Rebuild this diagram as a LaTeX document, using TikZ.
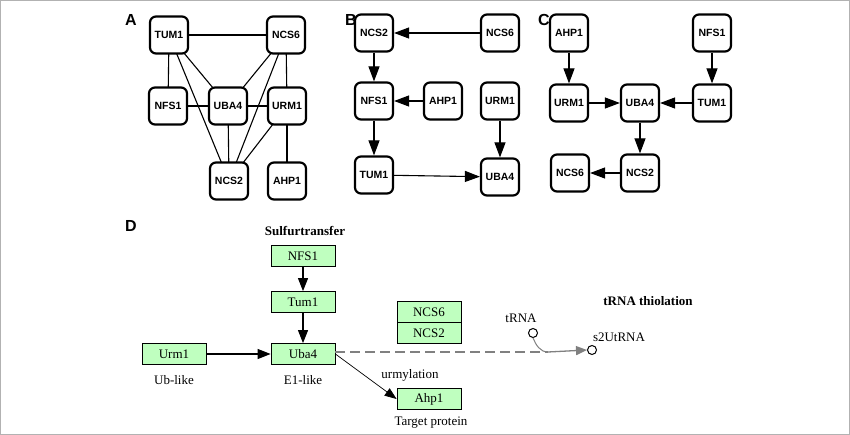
\documentclass[tikz,border=0pt]{standalone}
\usepackage{fontspec}
\setmainfont{Liberation Serif}
\setsansfont{Liberation Sans}
\usetikzlibrary{arrows.meta}
\definecolor{kg}{HTML}{BFFFBF}
\begin{document}
\begin{tikzpicture}[x=1pt,y=-1pt,
 pn/.style={draw,line width=2.2pt,rounded corners=6pt,minimum width=38pt,minimum height=37pt,inner sep=1pt,font=\sffamily\bfseries\fontsize{10.5}{11}\selectfont,fill=white},
 el/.style={line width=1.1pt},
 ar/.style={line width=1.1pt,-{Triangle[length=15pt,width=11pt]}},
 lab/.style={font=\sffamily\bfseries\fontsize{16}{17}\selectfont,inner sep=0pt},
 kb/.style={draw,line width=0.8pt,fill=kg,minimum width=64pt,minimum height=21pt,inner sep=0pt,font=\fontsize{13}{14}\selectfont},
 tx/.style={font=\fontsize{13}{14}\selectfont,inner sep=1pt},
 bt/.style={font=\bfseries\fontsize{13}{14}\selectfont,inner sep=1pt},
 da/.style={line width=1.1pt,-{Triangle[length=13pt,width=10pt]}}]
\useasboundingbox (0,0) rectangle (850,435);
\draw[gray!60,line width=1pt] (0.5,0.5) rectangle (849.5,434.5);
% A
\node[lab] (la) at (131,20) {A};
\coordinate (atum) at (169,35);
\coordinate (ancs6) at (286,35);
\coordinate (anfs) at (168,106);
\coordinate (auba) at (228,106);
\coordinate (aurm) at (287,106);
\coordinate (ancs2) at (229,181);
\coordinate (aahp) at (287,181);
\foreach \a/\b in {atum/ancs6,atum/anfs,atum/auba,atum/ancs2,anfs/auba,auba/aurm,auba/ancs2,ancs6/auba,ancs6/ancs2,ancs6/aurm,aurm/ancs2,aurm/aahp}
 \draw[el] (\a) -- (\b);
\node[pn] (natum) at (atum) {TUM1};
\node[pn] (nancs6) at (ancs6) {NCS6};
\node[pn] (nanfs) at (anfs) {NFS1};
\node[pn] (nauba) at (auba) {UBA4};
\node[pn] (naurm) at (aurm) {URM1};
\node[pn] (nancs2) at (ancs2) {NCS2};
\node[pn] (naahp) at (aahp) {AHP1};
% B
\node[lab] (lb) at (351,20) {B};
\node[pn] (bncs2) at (374,33) {NCS2};
\node[pn] (bncs6) at (500,33) {NCS6};
\node[pn] (bnfs) at (374,101) {NFS1};
\node[pn] (bahp) at (443,101) {AHP1};
\node[pn] (burm) at (500,101) {URM1};
\node[pn] (btum) at (374,175) {TUM1};
\node[pn] (buba) at (500,177) {UBA4};
\draw[ar] (bncs6) -- (bncs2);
\draw[ar] (bncs2) -- (bnfs);
\draw[ar] (bahp) -- (bnfs);
\draw[ar] (bnfs) -- (btum);
\draw[ar] (btum) -- (buba);
\draw[ar] (burm) -- (buba);
% C
\node[lab] (lc) at (544,20) {C};
\node[pn] (cahp) at (569,33) {AHP1};
\node[pn] (cnfs) at (712,33) {NFS1};
\node[pn] (curm) at (569,103) {URM1};
\node[pn] (cuba) at (640,103) {UBA4};
\node[pn] (ctum) at (712,103) {TUM1};
\node[pn] (cncs6) at (570,173) {NCS6};
\node[pn] (cncs2) at (640,173) {NCS2};
\draw[ar] (cahp) -- (curm);
\draw[ar] (cnfs) -- (ctum);
\draw[ar] (curm) -- (cuba);
\draw[ar] (ctum) -- (cuba);
\draw[ar] (cuba) -- (cncs2);
\draw[ar] (cncs2) -- (cncs6);
% D
\node[lab] (ld) at (131,226) {D};
\node[bt] (sul) at (305,231) {Sulfurtransfer};
\node[kb] (dnfs) at (303,256) {NFS1};
\node[kb] (dtum) at (303,302) {Tum1};
\node[kb] (duba) at (303,354) {Uba4};
\node[kb] (durm) at (174,354) {Urm1};
\node[kb] (dncs6) at (429,312) {NCS6};
\node[kb] (dncs2) at (429,333) {NCS2};
\node[kb] (dahp) at (429,399) {Ahp1};
\node[tx] (ub) at (174,380) {Ub-like};
\node[tx] (e1) at (303,380) {E1-like};
\node[tx] (tp) at (431,423) {Target protein};
\node[tx] (urmy) at (410,375) {urmylation};
\draw[da] (dnfs) -- (dtum);
\draw[da] (dtum) -- (duba);
\draw[da] (durm) -- (duba);
\draw[line width=0.7pt,-{Triangle[length=12pt,width=9pt]}] (duba.east) -- (dahp.west);
\node[bt] (thio) at (648,301) {tRNA thiolation};
\node[tx] (trna) at (521,318) {tRNA};
\node[draw,circle,line width=1pt,minimum size=9pt,inner sep=0pt] (c1) at (533,333) {};
\node[draw,circle,line width=1pt,minimum size=9pt,inner sep=0pt] (c2) at (592,350) {};
\node[tx] (s2) at (619,337) {s2UtRNA};
\coordinate (j) at (548,352);
\draw[gray,line width=1.3pt,dash pattern=on 10pt off 5pt] (duba.east |- 0,352) -- (j);
\draw[gray,line width=1.3pt,-{Triangle[length=11pt,width=9pt]}] (j) -- (c2.west);
\draw[gray,line width=1pt] (c1.south) .. controls (536,345) and (540,352) .. (j);
\end{tikzpicture}
\end{document}
